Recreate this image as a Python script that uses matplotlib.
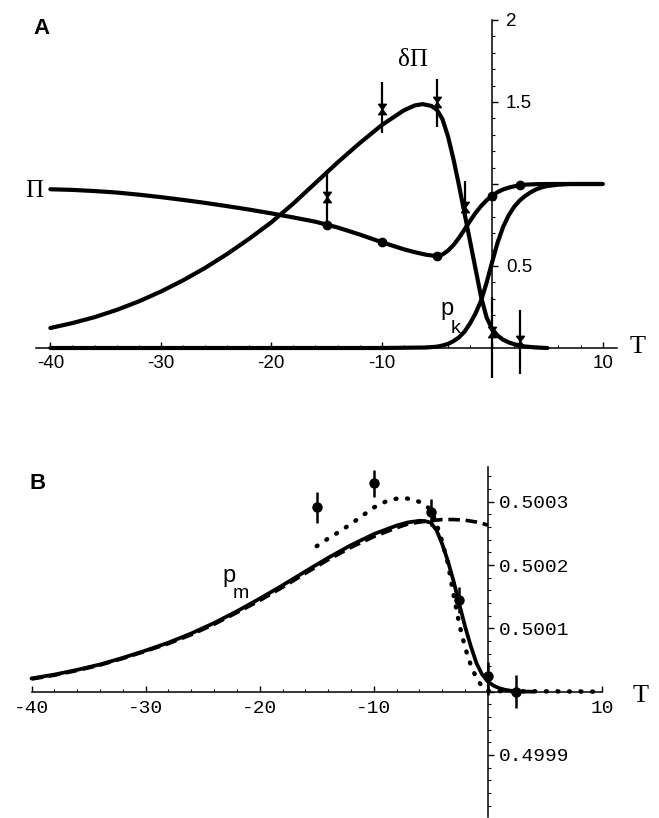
import matplotlib
matplotlib.use("Agg")
import matplotlib.pyplot as plt
from matplotlib.path import Path
from matplotlib.ticker import FixedLocator, FixedFormatter, MultipleLocator

W, H = 659, 818

# ---------------- Panel A data ----------------
T_pi = [-40, -38, -36, -34, -32, -30, -28, -26, -24, -22, -20, -18, -16, -14, -12, -10, -8, -7,
        -6, -5, -4.5, -4, -3.5, -3, -2.5, -2, -1.5, -1, -0.5, 0, 0.5, 1, 1.5, 2, 2.5, 3, 4,
        5, 10]
pi_vals = [0.968, 0.964, 0.957, 0.948, 0.935, 0.920, 0.903, 0.885, 0.865, 0.844, 0.821, 0.796,
           0.770, 0.735, 0.692, 0.645, 0.602, 0.584, 0.569, 0.560, 0.570, 0.594, 0.628, 0.672,
           0.723, 0.775, 0.824, 0.866, 0.901, 0.929, 0.951, 0.967, 0.978, 0.986, 0.992, 0.996,
           0.999, 1.0, 1.0]

T_dpi = [-40, -38, -36, -34, -32, -30, -28, -26, -24, -22, -20, -18, -16, -14, -12, -10, -8,
         -7, -6.3, -5.5, -5, -4.5, -4, -3.5, -3, -2.5, -2, -1.5, -1, -0.5, 0, 0.5, 1, 1.5, 2,
         2.5, 3, 4, 5]
dpi_vals = [0.122, 0.152, 0.188, 0.232, 0.284, 0.344, 0.412, 0.488, 0.573, 0.666, 0.766, 0.881,
            1.006, 1.131, 1.249, 1.359, 1.449, 1.479, 1.487, 1.476, 1.452, 1.395, 1.290, 1.150,
            0.990, 0.820, 0.650, 0.480, 0.310, 0.185, 0.115, 0.075, 0.050, 0.034, 0.023, 0.015,
            0.009, 0.003, 0.0]

T_pk = [-40, -10, -6, -5, -4.5, -4, -3.5, -3, -2.5, -2, -1.5, -1, -0.5, 0, 0.5, 1, 1.5, 2,
        2.5, 3, 3.5, 4, 4.5, 5, 6, 7, 10]
pk_vals = [0.0, 0.0, 0.003, 0.008, 0.015, 0.025, 0.042, 0.065, 0.100, 0.150, 0.212, 0.290,
           0.400, 0.525, 0.645, 0.740, 0.810, 0.862, 0.900, 0.928, 0.950, 0.968, 0.980, 0.988,
           0.996, 1.0, 1.0]

# data points, panel A
T_pts_A = [-15, -10, -5, -2.5, 0, 2.5]
dpi_pts = [0.92, 1.46, 1.50, 0.86, 0.10, 0.04]
dpi_lo = [0.75, 1.31, 1.35, 0.80, -0.18, -0.16]
dpi_hi = [1.085, 1.62, 1.64, 1.02, 0.31, 0.23]
T_pi_dots = [-15, -10, -5, 0, 2.5]
pi_dots = [0.752, 0.645, 0.560, 0.929, 0.992]

xticks_A = [-40, -30, -20, -10, 0, 10]
xticklabels_A = ['-40', '-30', '-20', '-10', '', '10']
yticks_A = [0.5, 1.0, 1.5, 2.0]
yticklabels_A = ['0.5', '', '1.5', '2']

# ---------------- Panel B data ----------------
T_pm = [-40, -38, -36, -34, -32, -30, -28, -26, -24, -22, -20, -18, -16, -14, -12, -10, -8,
        -7, -6, -5.5, -5, -4.5, -4, -3.5, -3, -2.5, -2, -1.5, -1, -0.5, 0, 0.5, 1, 1.5, 2,
        2.5, 3, 4]
pm_vals = [0.500021, 0.500027, 0.5000345, 0.500043, 0.5000535, 0.500065, 0.5000775, 0.500092,
           0.5001085, 0.500127, 0.500147, 0.500168, 0.500190, 0.5002115, 0.5002315, 0.500249,
           0.5002625, 0.5002675, 0.500270, 0.5002695, 0.500267, 0.500255, 0.500233, 0.500206,
           0.500174, 0.500138, 0.500103, 0.500072, 0.500045, 0.500027, 0.500016, 0.5000095,
           0.5000055, 0.500003, 0.5000015, 0.5000006, 0.5000002, 0.5]

T_dash = [-40, -38, -36, -34, -32, -30, -28, -26, -24, -22, -20, -18, -16, -14, -12, -10, -8,
          -7, -6, -5, -4, -3, -2, -1, -0.5, 0]
dash_vals = [0.500020, 0.500026, 0.5000335, 0.500042, 0.5000525, 0.500064, 0.500076, 0.500090,
             0.5001065, 0.500125, 0.500144, 0.500165, 0.500187, 0.5002085, 0.500228, 0.500245,
             0.500259, 0.500265, 0.500268, 0.500270, 0.500272, 0.500272, 0.500271, 0.500268,
             0.500266, 0.500263]

T_dot = [-15, -14, -13, -12, -11, -10, -9, -8, -7.5, -7, -6, -5, -4.5, -4, -3.5, -3, -2.5, -2,
         -1.5, -1, -0.5, 0, 10]
dot_vals = [0.500230, 0.500242, 0.500253, 0.500265, 0.500278, 0.500291, 0.500300, 0.500305,
            0.500306, 0.500305, 0.500300, 0.500288, 0.500265, 0.500237, 0.500202, 0.500152,
            0.500106, 0.500070, 0.500042, 0.500021, 0.500008, 0.500001, 0.5]

T_pts_B = [-15, -10, -5, -2.5, 0, 2.5]
pts_B = [0.500292, 0.500329, 0.500284, 0.500145, 0.500024, 0.5]
pts_B_lo = [0.500266, 0.500308, 0.500261, 0.500124, 0.499995, 0.499974]
pts_B_hi = [0.500316, 0.500350, 0.500305, 0.500166, 0.500047, 0.500026]

xticks_B = [-40, -30, -20, -10, 0, 10]
xticklabels_B = ['-40', '-30', '-20', '-10', '', '10']
yticks_B = [0.4999, 0.5, 0.5001, 0.5002, 0.5003]
yticklabels_B = ['0.4999', '', '0.5001', '0.5002', '0.5003']

# ---------------- figure ----------------
fig = plt.figure(figsize=(W / 100, H / 100), dpi=100)
fig.patch.set_facecolor('white')

def px_axes(x0, y0, x1, y1):
    # pixel box (top-left origin) -> figure axes
    return fig.add_axes([x0 / W, 1 - y1 / H, (x1 - x0) / W, (y1 - y0) / H])

hourglass = Path([(-0.75, 1), (0.75, 1), (-0.75, -1), (0.75, -1), (-0.75, 1)],
                 [Path.MOVETO, Path.LINETO, Path.LINETO, Path.LINETO, Path.CLOSEPOLY])

SANS = 'Liberation Sans'
SERIF = 'Liberation Serif'
MONO = 'Liberation Mono'

def style_axes(ax, fontname, fsize):
    ax.set_facecolor('none')
    ax.spines['top'].set_visible(False)
    ax.spines['left'].set_visible(False)
    ax.spines['right'].set_position(('data', 0))
    ax.spines['right'].set_linewidth(1.1)
    ax.spines['bottom'].set_linewidth(1.1)
    ax.yaxis.set_ticks_position('right')
    ax.xaxis.set_ticks_position('bottom')
    ax.tick_params(axis='x', which='major', direction='in', length=4, width=1, pad=5,
                   labelsize=fsize)
    ax.tick_params(axis='x', which='minor', direction='in', length=2, width=0.8)
    ax.tick_params(axis='y', which='major', direction='out', length=4, width=1, labelsize=fsize)
    ax.tick_params(axis='y', which='minor', direction='out', length=2, width=0.8)
    for lab in ax.get_xticklabels() + ax.get_yticklabels():
        lab.set_fontfamily(fontname)

# ---------- Panel A ----------
axA = px_axes(36, 20, 617, 380.8)
axA.set_xlim(-41.3, 11.3)
axA.set_ylim(-0.2, 2.0)
axA.spines['bottom'].set_position(('data', 0))
axA.spines['right'].set_bounds(0, 2)
axA.xaxis.set_major_locator(FixedLocator(xticks_A))
axA.xaxis.set_major_formatter(FixedFormatter(xticklabels_A))
axA.xaxis.set_minor_locator(MultipleLocator(2))
axA.yaxis.set_major_locator(FixedLocator(yticks_A))
axA.yaxis.set_major_formatter(FixedFormatter(yticklabels_A))
axA.yaxis.set_minor_locator(FixedLocator([i / 10 for i in range(1, 20)]))
style_axes(axA, SANS, 13.5)
axA.tick_params(axis='y', which='major', pad=6)

lw = 3.0
axA.plot(T_pk, pk_vals, color='black', lw=lw, solid_capstyle='round', clip_on=False)
axA.plot(T_dpi, dpi_vals, color='black', lw=lw, solid_capstyle='round', clip_on=False)
axA.plot(T_pi, pi_vals, color='black', lw=lw, solid_capstyle='round', clip_on=False)

yerr_A = [[v - lo for v, lo in zip(dpi_pts, dpi_lo)], [hi - v for v, hi in zip(dpi_pts, dpi_hi)]]
axA.errorbar(T_pts_A, dpi_pts, yerr=yerr_A, fmt='none', ecolor='black', elinewidth=1.6,
             capsize=0, clip_on=False)
axA.plot(T_pts_A, dpi_pts, linestyle='none', marker=hourglass, ms=7.5, color='black',
         clip_on=False)
axA.plot(T_pi_dots, pi_dots, linestyle='none', marker='o', ms=6, color='black', clip_on=False)

# ---------- Panel B ----------
axB = px_axes(31.5, 467, 602, 817)
axB.set_xlim(-40, 10)
axB.set_ylim(0.4998020, 0.5003550)
axB.spines['bottom'].set_position(('data', 0.5))
axB.xaxis.set_major_locator(FixedLocator(xticks_B))
axB.xaxis.set_major_formatter(FixedFormatter(xticklabels_B))
axB.xaxis.set_minor_locator(MultipleLocator(2))
axB.yaxis.set_major_locator(FixedLocator(yticks_B))
axB.yaxis.set_major_formatter(FixedFormatter(yticklabels_B))
axB.yaxis.set_minor_locator(MultipleLocator(0.00002))
style_axes(axB, MONO, 14)
axB.tick_params(axis='y', which='major', pad=4)
axB.tick_params(axis='x', which='major', pad=6)

axB.plot(T_dash, dash_vals, color='black', lw=2.6, linestyle=(0, (3.2, 1.6)),
         dash_capstyle='butt', clip_on=False)
axB.plot(T_pm, pm_vals, color='black', lw=2.7, solid_capstyle='round', clip_on=False)
axB.plot(T_dot, dot_vals, color='black', lw=3.2, linestyle=(0, (0.2, 2.4)),
         dash_capstyle='round', clip_on=False)

yerr_B = [[v - lo for v, lo in zip(pts_B, pts_B_lo)], [hi - v for v, hi in zip(pts_B, pts_B_hi)]]
axB.errorbar(T_pts_B, pts_B, yerr=yerr_B, fmt='o', ms=6.5, color='black', ecolor='black',
             elinewidth=1.8, capsize=0, clip_on=False)

# ---------- labels ----------
def ftext(x, y, s, **kw):
    fig.text(x / W, 1 - y / H, s, ha='center', va='center', **kw)

ftext(41, 28, 'A', fontsize=16, fontweight='bold', family=SANS)
ftext(38, 484, 'B', fontsize=16, fontweight='bold', family=SANS)
ftext(413, 60, 'δΠ', fontsize=18, family=SERIF)
ftext(34, 191, 'Π', fontsize=18, family=SERIF)
ftext(638, 347, 'T', fontsize=19, family=SERIF)
ftext(641, 696, 'T', fontsize=19, family=SERIF)
ftext(447, 309, 'p', fontsize=17, family=SANS)
ftext(456, 328, 'k', fontsize=14, family=SANS)
ftext(229, 576, 'p', fontsize=17, family=SANS)
ftext(241, 593, 'm', fontsize=14, family=SANS)

fig.savefig('out.png', dpi=100, facecolor='white')
